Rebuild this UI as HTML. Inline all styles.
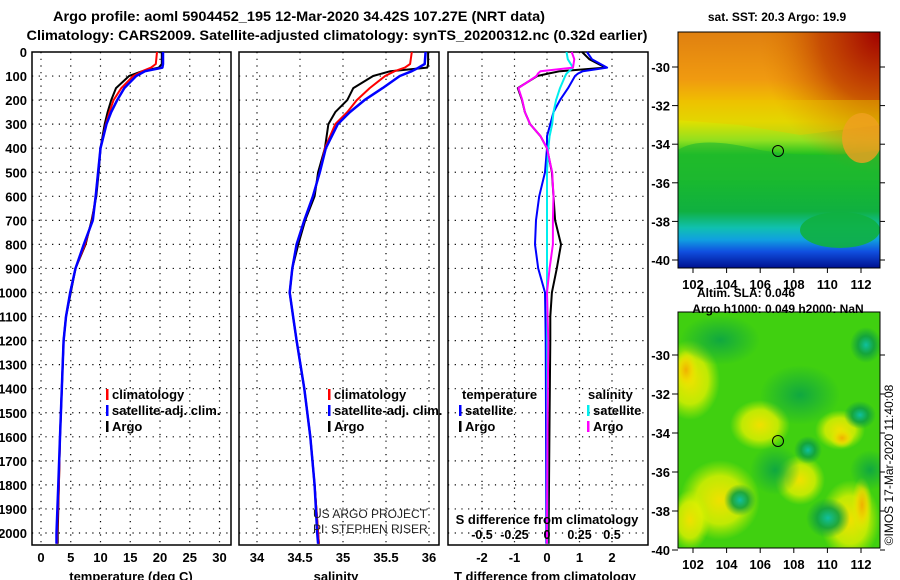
<!DOCTYPE html>
<html><head><meta charset="utf-8"><style>
body{margin:0;background:#fff;}
svg{display:block;font-family:"Liberation Sans",sans-serif;font-weight:bold;}
</style></head><body>
<svg id="chart" width="900" height="580" viewBox="0 0 900 580">
<defs>
<linearGradient id="sstGrad" x1="0" y1="0" x2="0" y2="1">
<stop offset="0" stop-color="#e08010"/><stop offset="0.2" stop-color="#f09a10"/>
<stop offset="0.3" stop-color="#f0c000"/><stop offset="0.38" stop-color="#e0e000"/>
<stop offset="0.46" stop-color="#90e020"/><stop offset="0.52" stop-color="#20c020"/>
<stop offset="0.76" stop-color="#10b040"/><stop offset="0.83" stop-color="#10c0b0"/>
<stop offset="0.88" stop-color="#10a0e0"/><stop offset="0.93" stop-color="#1050e0"/>
<stop offset="1" stop-color="#001090"/>
</linearGradient>
<radialGradient id="redTR" cx="1" cy="0" r="0.6"><stop offset="0" stop-color="#a00000"/><stop offset="0.5" stop-color="#c04000" stop-opacity="0.8"/><stop offset="1" stop-color="#e08000" stop-opacity="0"/></radialGradient>
<radialGradient id="yel"><stop offset="0" stop-color="#f0e000"/><stop offset="0.6" stop-color="#e0f000" stop-opacity="0.8"/><stop offset="1" stop-color="#c0f000" stop-opacity="0"/></radialGradient>
<radialGradient id="orb"><stop offset="0" stop-color="#f0b000"/><stop offset="0.5" stop-color="#f0d800" stop-opacity="0.8"/><stop offset="1" stop-color="#e0f000" stop-opacity="0"/></radialGradient>
<radialGradient id="teal"><stop offset="0" stop-color="#10c0a0"/><stop offset="0.5" stop-color="#10a040" stop-opacity="0.9"/><stop offset="1" stop-color="#10a040" stop-opacity="0"/></radialGradient>
<radialGradient id="dgreen"><stop offset="0" stop-color="#10a840"/><stop offset="1" stop-color="#10a840" stop-opacity="0"/></radialGradient>
<clipPath id="cTop"><rect x="678" y="32" width="202" height="236"/></clipPath>
<clipPath id="cBot"><rect x="678" y="312" width="202" height="236"/></clipPath>
</defs>
<g id="root"></g>
</svg>
<script>
// ===== data =====
const tDepth = [0,50,65,80,100,150,200,250,300,400,500,600,700,800,900,1000,1100,1200,1400,1600,1800,2000,2045];
const tArgo  = [20.3,20.3,19.8,17.0,14.8,12.6,11.8,11.2,10.7,10.0,9.7,9.3,8.5,7.5,5.8,5.0,4.2,3.8,3.5,3.2,3.0,2.8,2.8];
const tClim  = [19.5,19.3,18.5,17.0,15.5,13.5,12.2,11.5,10.9,10.0,9.6,9.2,8.6,7.4,5.8,4.9,4.2,3.8,3.5,3.2,3.0,2.7,2.7];
const tSat   = [20.5,20.5,20.4,17.5,16.0,14.0,12.8,11.8,11.0,10.0,9.6,9.2,8.7,7.2,5.8,4.9,4.2,3.8,3.5,3.2,2.9,2.6,2.6];
const sArgo  = [35.99,35.99,35.98,35.55,35.35,35.12,35.05,34.91,34.83,34.79,34.71,34.67,34.56,34.48,34.41,34.38,34.42,34.46,34.55,34.62,34.67,34.71,34.72];
const sClim  = [35.80,35.78,35.72,35.60,35.49,35.31,35.16,35.05,34.91,34.79,34.73,34.65,34.55,34.46,34.41,34.38,34.42,34.46,34.55,34.62,34.67,34.71,34.72];
const sSat   = [35.96,35.95,35.88,35.80,35.66,35.46,35.25,35.08,34.94,34.80,34.73,34.65,34.55,34.46,34.41,34.38,34.42,34.46,34.55,34.62,34.67,34.70,34.71];
const dDepth = [0,30,65,80,90,100,150,200,250,300,350,400,500,600,700,800,900,1000,1100,1200,1500,2000,2045];
const dTArgo = [1.08,1.3,1.8,0.4,0.03,-0.3,-0.9,-0.77,-0.68,-0.52,-0.2,0.0,0.15,0.2,0.25,0.43,0.3,0.15,0.1,0.1,0.08,0.05,0.05];
const dTSat  = [1.23,1.38,1.85,1.1,0.95,0.86,0.65,0.4,0.2,0.1,0.0,0.0,-0.06,-0.24,-0.34,-0.37,-0.27,-0.06,-0.05,-0.04,-0.03,-0.02,-0.02];
const dSArgo = [0.19,0.21,0.2,-0.05,-0.07,-0.08,-0.22,-0.19,-0.17,-0.13,-0.05,0.0,0.04,0.05,0.045,0.045,0.02,0.0,0.005,0.01,0.005,0.0,0.0];
const dSSat  = [0.15,0.16,0.2,0.17,0.15,0.14,0.1,0.07,0.05,0.04,0.02,0.01,0.0,0.0,0.0,0.0,0.0,0.0,0.002,0.002,0.002,0.002,0.002];
const depthTicks = [0,100,200,300,400,500,600,700,800,900,1000,1100,1200,1300,1400,1500,1600,1700,1800,1900,2000];
const tTicks = [0,5,10,15,20,25,30];
const sTicks = [34,34.5,35,35.5,36];
const sTickLabels = ["34","34.5","35","35.5","36"];
const dtTicks = [-2,-1,0,1,2];
const dsTicks = [-0.5,-0.25,0,0.25,0.5];
const dsTickLabels = ["-0.5","-0.25","0","0.25","0.5"];
const latTicks = [-30,-32,-34,-36,-38,-40];
const lonTicks = [102,104,106,108,110,112];

// ===== axes =====
const Y0=52, YB=545;
const yD = d => Y0 + d*0.2405;
const xT = v => 41 + v*5.95;
const xS = v => 257 + (v-34)*86;
const xDT = v => 547 + v*32.5;
const xDS = v => 547 + v*130;
const xLon = v => 693 + (v-102)*16.8;
const yLatTop = v => 67 + (-30-v)*19.3;
const yLatBot = v => 355 + (-30-v)*19.5;

const NS="http://www.w3.org/2000/svg";
const root=document.getElementById('root');
function el(tag,attrs,parent){const e=document.createElementNS(NS,tag);for(const k in attrs)e.setAttribute(k,attrs[k]);(parent||root).appendChild(e);return e;}
function txt(x,y,s,attrs,parent){const e=el('text',Object.assign({x:x,y:y,'font-size':13},attrs||{}),parent);e.textContent=s;return e;}

let t;
t=txt(299,21,"Argo profile: aoml 5904452_195 12-Mar-2020 34.42S 107.27E (NRT data)",{'text-anchor':'middle','font-size':14,textLength:492,lengthAdjust:'spacingAndGlyphs'});

t=txt(337,40,"Climatology: CARS2009. Satellite-adjusted climatology: synTS_20200312.nc (0.32d earlier)",{'text-anchor':'middle','font-size':14,textLength:621,lengthAdjust:'spacingAndGlyphs'});


function panel(name,x0,x1,xticks,xfun,xlabels,xtitle,xtitleX){
  const g=el('g',{});
  
  
  depthTicks.forEach(d=>{ if(d>0) el('line',{x1:x0,x2:x1,y1:yD(d),y2:yD(d),stroke:'#000','stroke-width':1.2,'stroke-dasharray':'1.2,5.5'},g);});
  xticks.forEach(v=>{ el('line',{x1:xfun(v),x2:xfun(v),y1:Y0,y2:YB,stroke:'#000','stroke-width':1.2,'stroke-dasharray':'1.2,5.5'},g);});
  const fr=el('rect',{x:x0,y:Y0,width:x1-x0,height:YB-Y0,fill:'none',stroke:'#000','stroke-width':1.5},g);
  
  xticks.forEach((v,i)=>{ const tt=txt(xfun(v),562,xlabels[i],{'text-anchor':'middle'},g);
    });
  const tl=txt(xtitleX,581,xtitle,{'text-anchor':'middle'},g);
  
  return g;
}
function line(g,xs,ds,xfun,color,w,name){
  const pts=xs.map((v,i)=>xfun(v).toFixed(1)+','+yD(ds[i]).toFixed(1)).join(' ');
  const p=el('polyline',{points:pts,fill:'none',stroke:color,'stroke-width':w,'stroke-linejoin':'round'},g);
  
}
function legend(g,x,y,color,label){
  const r=el('rect',{x:x,y:y-10,width:2.5,height:11,fill:color},g);
  
  const tt=txt(x+6,y,label,{},g);
  
}

depthTicks.forEach(d=>{const tt=txt(27,yD(d)+5,String(d),{'text-anchor':'end'});
  });

const p1=panel('temperature-panel',32,231,tTicks,xT,tTicks.map(String),'temperature (deg C)',131);
line(p1,tArgo,tDepth,xT,'#000',2,'temperature-argo-line');
line(p1,tClim,tDepth,xT,'#f00',2,'temperature-climatology-line');
line(p1,tSat,tDepth,xT,'#00f',2.5,'temperature-satellite-line');
legend(p1,106,399,'#f00','climatology');
legend(p1,106,415,'#00f','satellite-adj. clim.');
legend(p1,106,431,'#000','Argo');

const p2=panel('salinity-panel',239,439,sTicks,xS,sTickLabels,'salinity',336);
line(p2,sArgo,tDepth,xS,'#000',2,'salinity-argo-line');
line(p2,sClim,tDepth,xS,'#f00',2,'salinity-climatology-line');
line(p2,sSat,tDepth,xS,'#00f',2.5,'salinity-satellite-line');
legend(p2,328,399,'#f00','climatology');
legend(p2,328,415,'#00f','satellite-adj. clim.');
legend(p2,328,431,'#000','Argo');
let c=txt(313,518,'US ARGO PROJECT',{'font-weight':'normal','font-size':12,fill:'#222'},p2);

c=txt(313,533,'PI: STEPHEN RISER',{'font-weight':'normal','font-size':12,fill:'#222'},p2);


const p3=panel('difference-panel',448,648,dtTicks,xDT,dtTicks.map(String),'T difference from climatology',545);
line(p3,dTArgo,dDepth,xDT,'#000',2,'t-diff-argo-line');
line(p3,dTSat,dDepth,xDT,'#00f',2,'t-diff-satellite-line');
line(p3,dSSat,dDepth,xDS,'#0ee',2,'s-diff-satellite-line');
line(p3,dSArgo,dDepth,xDS,'#f0f',2,'s-diff-argo-line');
c=txt(462,399,'temperature',{},p3);
c=txt(588,399,'salinity',{},p3);
legend(p3,459,415,'#00f','satellite');
legend(p3,459,431,'#000','Argo');
legend(p3,587,415,'#0ee','satellite');
legend(p3,587,431,'#f0f','Argo');
c=txt(547,524,'S difference from climatology',{'text-anchor':'middle'},p3);

dsTicks.forEach((v,i)=>{const tt=txt(xDS(v),539,dsTickLabels[i],{'text-anchor':'middle','font-size':12.5},p3);
  });

function mapAxes(name,y0,yfun){
  const g=el('g',{});
  
  el('rect',{x:678,y:y0,width:202,height:236,fill:'none',stroke:'#000','stroke-width':1},g);
  latTicks.forEach(v=>{const y=yfun(v);
    el('line',{x1:672,x2:678,y1:y,y2:y,stroke:'#000'},g);
    el('line',{x1:880,x2:885,y1:y,y2:y,stroke:'#000'},g);
    const tt=txt(670,y+5,String(v),{'text-anchor':'end'},g);
    });
  lonTicks.forEach(v=>{const x=xLon(v);
    el('line',{x1:x,x2:x,y1:y0+236,y2:y0+241,stroke:'#000'},g);
    const tt=txt(x,y0+257,String(v),{'text-anchor':'middle'},g);
    });
}
const mt=el('g',{'clip-path':'url(#cTop)'});

el('rect',{x:678,y:32,width:202,height:236,fill:'url(#sstGrad)'},mt);
el('rect',{x:678,y:32,width:202,height:236,fill:'url(#redTR)'},mt);
el('path',{d:'M678,120 L740,125 L800,135 L880,125 L880,100 L678,100Z',fill:'#e8c800',opacity:0.4},mt);
el('path',{d:'M678,150 Q700,135 760,150 Q820,160 880,150 L880,180 L678,180Z',fill:'#20b830',opacity:0.6},mt);
el('ellipse',{cx:862,cy:138,rx:20,ry:25,fill:'#f0a020',opacity:0.8},mt);
el('ellipse',{cx:840,cy:230,rx:40,ry:18,fill:'#10b040',opacity:0.9},mt);
mapAxes('sst-map',32,yLatTop);
c=el('circle',{cx:778,cy:151,r:5.5,fill:'none',stroke:'#000','stroke-width':1});


const mb=el('g',{'clip-path':'url(#cBot)'});

el('rect',{x:678,y:312,width:202,height:236,fill:'#40d010'},mb);
[[690,380,30,40],[760,425,30,25],[720,500,40,40],[850,520,30,40],[800,480,25,25],[840,430,25,20],[690,520,20,30]].forEach(a=>el('ellipse',{cx:a[0],cy:a[1],rx:a[2],ry:a[3],fill:'url(#yel)'},mb));
[[842,438,12,10],[862,505,10,28],[686,370,12,20]].forEach(a=>el('ellipse',{cx:a[0],cy:a[1],rx:a[2],ry:a[3],fill:'url(#orb)'},mb));
[[740,500,16,16],[828,518,22,20],[866,345,16,18],[808,450,14,14],[860,415,16,14]].forEach(a=>el('ellipse',{cx:a[0],cy:a[1],rx:a[2],ry:a[3],fill:'url(#teal)'},mb));
[[720,340,40,25],[800,395,40,30],[775,470,25,25],[870,470,20,20]].forEach(a=>el('ellipse',{cx:a[0],cy:a[1],rx:a[2],ry:a[3],fill:'url(#dgreen)'},mb));
mapAxes('sla-map',312,yLatBot);
c=el('circle',{cx:778,cy:441,r:5.5,fill:'none',stroke:'#000','stroke-width':1});


c=txt(777,21,'sat. SST: 20.3 Argo: 19.9',{'text-anchor':'middle','font-size':12});

c=txt(746,297,'Altim. SLA: 0.046',{'text-anchor':'middle','font-size':12});

c=txt(778,313,'Argo h1000: 0.049 h2000: NaN',{'text-anchor':'middle','font-size':12});

c=txt(0,0,'©IMOS 17-Mar-2020 11:40:08',{'text-anchor':'middle','font-weight':'normal','font-size':12,transform:'translate(893,465) rotate(-90)'});

</script>
</body></html>
